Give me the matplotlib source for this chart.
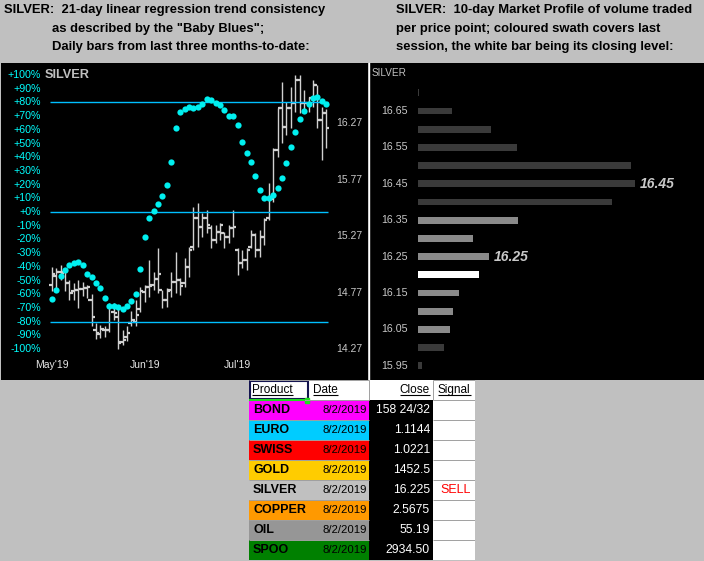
import numpy as np
import matplotlib.pyplot as plt
from matplotlib.patches import Rectangle

plt.rcParams['font.family'] = ['Liberation Sans', 'DejaVu Sans']

W, H = 704, 561

# ---- left panel: daily bars + 21-day trend consistency ("Baby Blues") ----
months = ["May'19", "Jun'19", "Jul'19"]
month_idx = [0, 21, 42]

opens = [14.84, 14.92, 14.95, 14.95, 14.85, 14.78, 14.79, 14.80, 14.81, 14.70,
         14.44, 14.40, 14.44, 14.44, 14.60, 14.55, 14.33, 14.38, 14.50, 14.51,
         14.62, 14.775, 14.82, 14.84, 14.89, 14.79, 14.70, 14.79, 14.86, 14.88,
         14.85, 15.00, 15.17, 15.43, 15.35, 15.43, 15.34, 15.235, 15.31, 15.30,
         15.26, 15.34, 15.15, 15.03, 15.06, 15.17, 15.28, 15.15, 15.26, 15.43,
         15.60, 16.03, 16.40, 16.235, 16.40, 16.45, 16.65, 16.45, 16.45, 16.49,
         16.61, 16.30, 16.36]
highs = [15.00, 14.99, 15.01, 14.98, 14.88, 14.85, 14.88, 14.86, 14.84, 14.76,
         14.50, 14.48, 14.47, 14.68, 14.68, 14.65, 14.44, 14.47, 14.61, 14.70,
         14.82, 14.84, 15.06, 14.95, 15.16, 14.79, 14.81, 14.95, 15.13, 14.90,
         15.075, 15.17, 15.53, 15.56, 15.47, 15.50, 15.37, 15.37, 15.385, 15.31,
         15.37, 15.50, 15.16, 15.15, 15.16, 15.32, 15.30, 15.32, 15.43, 15.74,
         16.05, 16.40, 16.63, 16.46, 16.59, 16.695, 16.695, 16.56, 16.50, 16.65,
         16.61, 16.41, 16.39]
lows = [14.78, 14.79, 14.88, 14.78, 14.70, 14.70, 14.63, 14.74, 14.72, 14.47,
        14.36, 14.37, 14.38, 14.42, 14.53, 14.27, 14.31, 14.34, 14.47, 14.47,
        14.60, 14.69, 14.73, 14.79, 14.77, 14.63, 14.64, 14.73, 14.77, 14.75,
        14.82, 14.91, 15.15, 15.17, 15.26, 15.30, 15.16, 15.21, 15.235, 15.16,
        15.21, 15.26, 14.925, 14.99, 14.97, 15.16, 15.08, 15.08, 15.19, 15.41,
        15.57, 15.97, 16.09, 16.16, 16.225, 16.37, 16.36, 16.37, 16.37, 16.41,
        16.225, 15.94, 16.05]
closes = [14.93, 14.95, 14.94, 14.85, 14.77, 14.79, 14.80, 14.81, 14.82, 14.55,
          14.41, 14.45, 14.44, 14.64, 14.59, 14.32, 14.35, 14.41, 14.53, 14.57,
          14.78, 14.82, 14.83, 14.89, 14.93, 14.70, 14.78, 14.86, 14.88, 14.83,
          15.00, 15.15, 15.43, 15.35, 15.43, 15.37, 15.235, 15.31, 15.37, 15.26,
          15.34, 15.35, 15.03, 15.06, 15.15, 15.28, 15.15, 15.26, 15.41, 15.60,
          16.03, 16.40, 16.235, 16.40, 16.45, 16.65, 16.45, 16.45, 16.49, 16.61,
          16.30, 16.36, 16.225]
trend = [-63.3, -56.7, -46.7, -42.1, -38.5, -37.2, -36.7, -38.5, -45.0, -47.4,
         -51.6, -55.7, -62.5, -68.6, -68.6, -69.3, -70.6, -68.6, -64.7, -59.6,
         -41.6, -18.0, -4.4, 1.0, 5.8, 11.7, 19.7, 36.6, 61.3, 73.0,
         75.2, 76.6, 76.1, 76.6, 79.0, 82.5, 81.8, 79.8, 78.3, 74.5,
         70.0, 70.0, 63.5, 51.3, 43.0, 36.5, 26.3, 16.0, 10.5, 10.5,
         12.4, 17.7, 24.8, 35.8, 47.4, 58.6, 67.9, 73.7, 79.0, 83.2,
         83.9, 81.2, 79.0]

pct_ticks = list(range(100, -101, -10))
price_ticks = [16.27, 15.77, 15.27, 14.77, 14.27]
trend_levels = [80, 0, -80]

# ---- right panel: 10-day market profile ----
levels = [16.70, 16.65, 16.60, 16.55, 16.50, 16.45, 16.40, 16.35,
          16.30, 16.25, 16.20, 16.15, 16.10, 16.05, 16.00, 15.95]
volume = [1, 34, 73, 99, 213, 217, 194, 100, 55, 71, 61, 41, 35, 32, 26, 4]
in_session = [False] * 7 + [True] * 7 + [False] * 2
close_level = 16.20
peak_labels = [16.45, 16.25]
profile_ticks = [16.65, 16.55, 16.45, 16.35, 16.25, 16.15, 16.05, 15.95]

# ---- table ----
products = ['BOND', 'EURO', 'SWISS', 'GOLD', 'SILVER', 'COPPER', 'OIL', 'SPOO']
dates = ['8/2/2019'] * 8
last = ['158 24/32', '1.1144', '1.0221', '1452.5', '16.225', '2.5675', '55.19', '2934.50']
signals = ['', '', '', '', 'SELL', '', '', '']
row_colors = ['#FF00FF', '#00CCFF', '#FF0000', '#FFCC00', '#C0C0C0', '#FF9900', '#969696', '#008000']

fig = plt.figure(figsize=(W / 100, H / 100), dpi=100, facecolor='#C0C0C0')


def px_axes(x0, y0, x1, y1):
    return fig.add_axes([x0 / W, 1 - y1 / H, (x1 - x0) / W, (y1 - y0) / H])


def clean(a):
    a.set_xticks([])
    a.set_yticks([])
    for s in a.spines.values():
        s.set_visible(False)


# headers
hdr = dict(fontsize=9.4, fontweight='bold', color='black', va='center')
fig.text(4 / W, 1 - 10 / H, 'SILVER:  21-day linear regression trend consistency', **hdr)
fig.text(52 / W, 1 - 29 / H, 'as described by the "Baby Blues";', **hdr)
fig.text(52 / W, 1 - 47 / H, 'Daily bars from last three months-to-date:', **hdr)
fig.text(396 / W, 1 - 10 / H, 'SILVER:  10-day Market Profile of volume traded', **hdr)
fig.text(396 / W, 1 - 29 / H, 'per price point; coloured swath covers last', **hdr)
fig.text(396 / W, 1 - 47 / H, 'session, the white bar being its closing level:', **hdr)

# left chart
ax = px_axes(1, 63, 368, 380)
ax2 = ax.twinx()
ax.set_zorder(2)
ax2.set_zorder(1)
ax.patch.set_visible(False)
ax2.patch.set_visible(True)
ax2.set_facecolor('black')
ax.set_xlim(-11.44, 71.4)
ax.set_ylim(-122.6, 108.8)
ax2.set_ylim(13.996, 16.801)
clean(ax)
clean(ax2)

days = np.arange(len(closes))
bar_c = '#D0D0D0'
ax2.vlines(days, lows, highs, color=bar_c, lw=1.0)
ax2.hlines(opens, days - 0.7, days, color=bar_c, lw=1.6)
ax2.hlines(closes, days, days + 0.7, color=bar_c, lw=1.6)

ax.hlines(trend_levels, -0.3, days[-1] + 0.3, color='#00BFFF', lw=1.0)
ax.plot(days, trend, 'o', color='#00F0F0', ms=4.5, mew=0)

for v in pct_ticks:
    lab = f'+{v}%' if v >= 0 else f'{v}%'
    ax.text(40 / 367, v, lab, transform=ax.get_yaxis_transform(), ha='right',
            va='center', color='#00FFFF', fontsize=7.7)
ax.text(44 / 367, 100, 'SILVER', transform=ax.get_yaxis_transform(), ha='left',
        va='center', color='#C0C0C0', fontsize=9.2, fontweight='bold')
for p in price_ticks:
    ax2.text(335 / 367, p, f'{p:.2f}', transform=ax2.get_yaxis_transform(),
             ha='left', va='center', color='#C8C8C8', fontsize=7.5)
for m, i in zip(months, month_idx):
    ax.text(i, 15 / 317, m, transform=ax.get_xaxis_transform(), ha='center',
            va='center', color='#E8E8E8', fontsize=7.5)

# right chart
ax3 = px_axes(369, 63, 704, 380)
ax3.set_facecolor('black')
ax3.set_xlim(-49, 286)
ax3.set_ylim(15.911, 16.782)
clean(ax3)
ax3.spines['left'].set_visible(True)
ax3.spines['left'].set_color('white')
ax3.spines['left'].set_linewidth(1.0)
colors = ['#FFFFFF' if lv == close_level else ('#8A8A8A' if s else '#3A3A3A')
          for lv, s in zip(levels, in_session)]
ax3.barh(levels, volume, height=0.019, color=colors)
for p in profile_ticks:
    ax3.text(-10, p, f'{p:.2f}', ha='right', va='center', color='#C8C8C8', fontsize=7.7)
for p in peak_labels:
    v = volume[levels.index(p)]
    ax3.text(v + 5, p, f'{p:.2f}', ha='left', va='center', color='#C8C8C8',
             fontsize=10, fontweight='bold', fontstyle='italic')
ax3.text(3 / 335, (380 - 73) / 317, 'SILVER', transform=ax3.transAxes, ha='left',
         va='center', color='#C0C0C0', fontsize=7.2)

# table
axt = px_axes(249, 380, 475, 560)
axt.set_xlim(0, 226)
axt.set_ylim(9, 0)
axt.patch.set_visible(False)
clean(axt)
rows = np.arange(1, len(products) + 1) + 0.5
axt.barh(0.5, 226, left=0, height=1, color='white')
axt.barh(rows, 120, left=0, height=1, color=row_colors)
axt.barh(rows, 64, left=120, height=1, color='black')
axt.barh(rows, 42, left=184, height=1, color='white')
grid_c = '#A0A0A0'
axt.hlines(np.arange(0, 10), 0, 120, color=grid_c, lw=0.7)
axt.hlines(np.arange(0, 10), 184, 226, color=grid_c, lw=0.7)
axt.vlines([120, 184], 0, 1, color=grid_c, lw=0.7)
axt.vlines(226, 0, 9, color=grid_c, lw=0.7)
axt.add_patch(Rectangle((0.5, 0.05), 58.5, 0.9, fill=False, edgecolor='#141450', lw=1.5))
axt.hlines(1.02, 0, 56, color='#22DD22', lw=1.5)
axt.add_patch(Rectangle((56, 0.9), 3.5, 0.25, color='#22DD22'))

heads = [
    axt.text(3, 0.5, 'Product', ha='left', va='center', fontsize=8.5),
    axt.text(64, 0.5, 'Date', ha='left', va='center', fontsize=8.5),
    axt.text(181, 0.5, 'Close', ha='right', va='center', fontsize=8.5),
    axt.text(189, 0.5, 'Signal', ha='left', va='center', fontsize=8.5),
]
for y, p, d, c, s in zip(rows, products, dates, last, signals):
    axt.text(4, y, p, ha='left', va='center', fontsize=9, fontweight='bold', color='black')
    axt.text(118, y, d, ha='right', va='center', fontsize=8.2, color='black')
    axt.text(181, y, c, ha='right', va='center', fontsize=8.7, color='white')
    if s:
        axt.text(191, y, s, ha='left', va='center', fontsize=9, color='#FF0000')

fig.canvas.draw()
inv = axt.transData.inverted()
for t in heads:
    bb = t.get_window_extent()
    (x0, y0), (x1, y1) = inv.transform([[bb.x0, bb.y0], [bb.x1, bb.y1]])
    axt.hlines(y0 - 0.05, x0, x1, color='black', lw=0.8)

fig.savefig('out.png', dpi=100, facecolor=fig.get_facecolor())
